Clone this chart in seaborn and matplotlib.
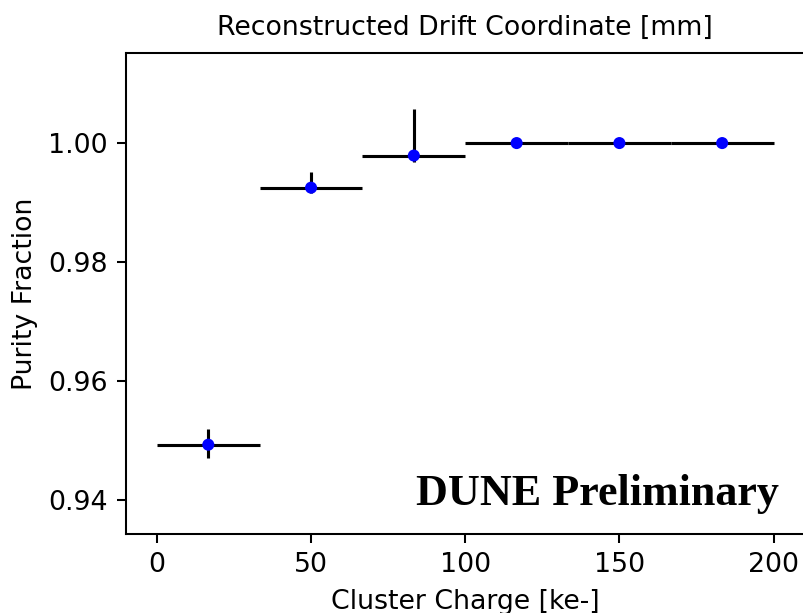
import numpy as np
import pandas as pd
import matplotlib
matplotlib.use("Agg")
import matplotlib.pyplot as plt
import seaborn as sns

# Data
bin_centers = [16.67, 50.0, 83.33, 116.67, 150.0, 183.33]
bin_half_width = [16.67, 16.67, 16.67, 16.67, 16.67, 16.67]
purity = [0.9493, 0.9925, 0.9979, 1.0, 1.0, 1.0]
err_low = [0.0022, 0.0009, 0.0010, 0.0, 0.0, 0.0]
err_high = [0.0027, 0.0027, 0.0079, 0.0, 0.0, 0.0]

title_text = "Reconstructed Drift Coordinate [mm]"
xlabel_text = "Cluster Charge [ke-]"
ylabel_text = "Purity Fraction"
stamp_text = "DUNE Preliminary"

sns.set_style("ticks")
plt.rcParams['font.family'] = ['DejaVu Sans']

DPI = 185
W, H = 803, 613
FS = 10.4
fig = plt.figure(figsize=((W + 0.4) / DPI, (H + 0.4) / DPI), dpi=DPI)
ax = fig.add_axes([126 / W, (H - 534) / H, (804 - 126) / W, (534 - 53) / H])

df = pd.DataFrame({"x": bin_centers, "y": purity})

ax.errorbar(bin_centers, purity, xerr=bin_half_width,
            yerr=[err_low, err_high], fmt='none', ecolor='black',
            elinewidth=1.2, capsize=0, zorder=2)
sns.scatterplot(data=df, x="x", y="y", ax=ax, color='blue', s=22,
                edgecolor='none', zorder=3)

ax.set_xlim(-10, 210)
ax.set_ylim(0.9343, 1.0152)
ax.set_xticks([0, 50, 100, 150, 200])
ax.set_yticks([0.94, 0.96, 0.98, 1.00])
ax.set_yticklabels(["0.94", "0.96", "0.98", "1.00"])

ax.set_xlabel(xlabel_text, fontsize=FS, color='black')
ax.set_ylabel(ylabel_text, fontsize=FS, color='black')
ax.set_title(title_text, fontsize=FS, pad=7, color='black')
ax.tick_params(axis='both', labelsize=FS, length=3.5, width=0.8, color='black',
               labelcolor='black', direction='out')
for sp in ax.spines.values():
    sp.set_linewidth(0.8)
    sp.set_color('black')
    sp.set_visible(True)

ax.text(0.963, 0.060, stamp_text, transform=ax.transAxes, ha='right',
        va='baseline', fontsize=17.2, fontweight='bold',
        family=['Liberation Serif', 'DejaVu Serif'], color='black')

fig.savefig("out.png", dpi=DPI)
